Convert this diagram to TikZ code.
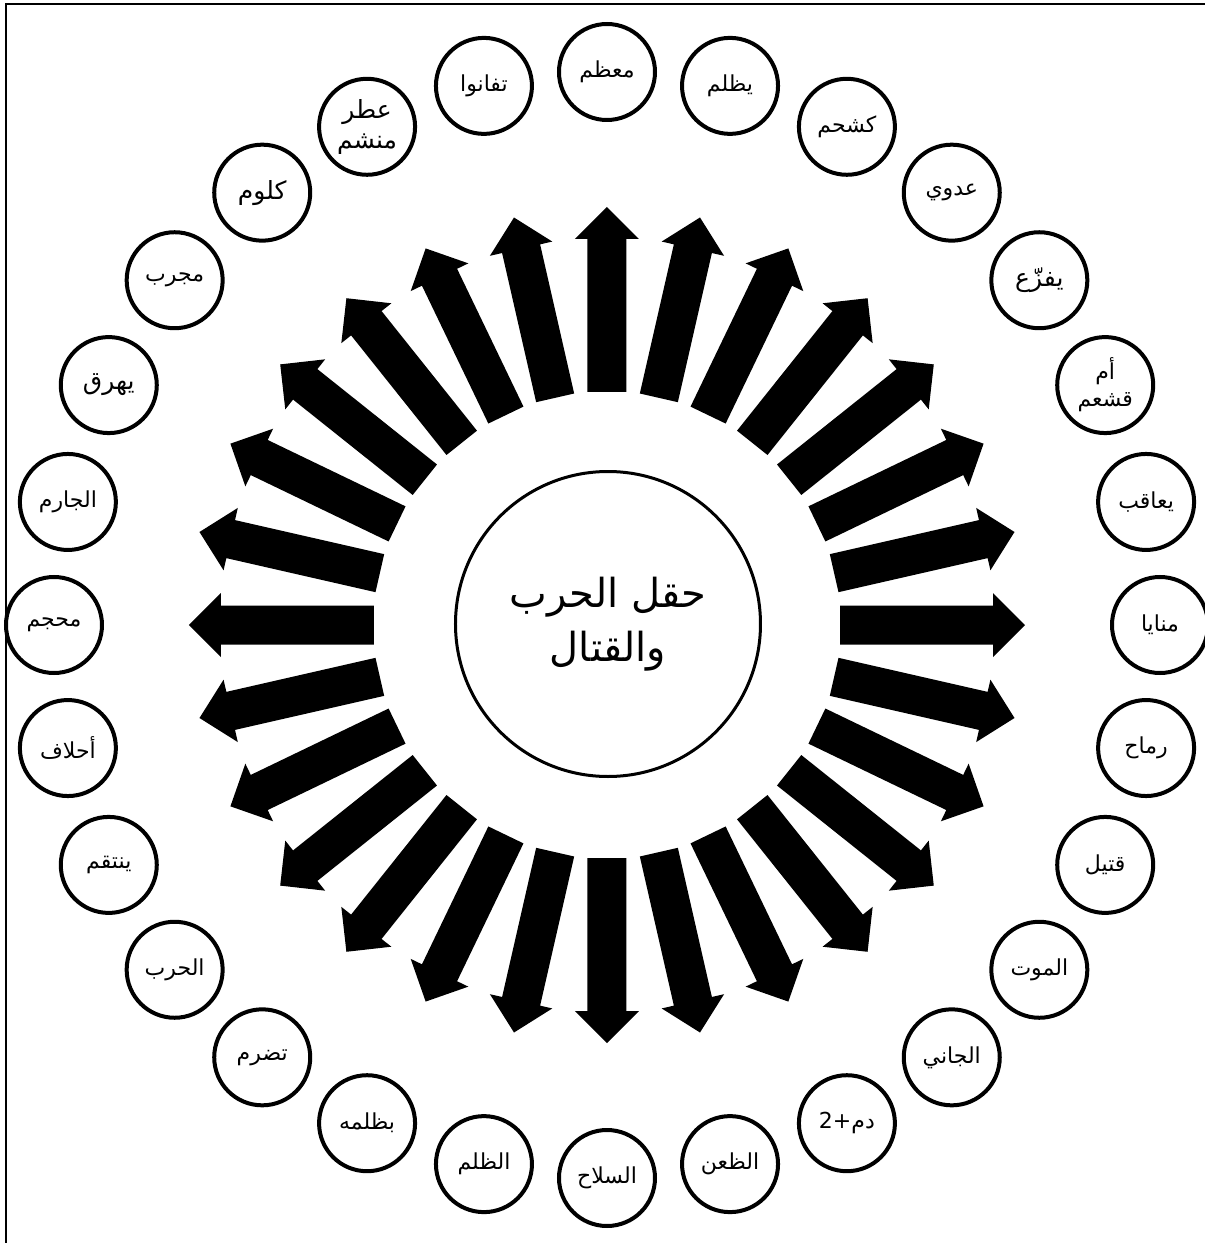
\documentclass[tikz,border=0pt]{standalone}
\usepackage{fontspec}
\newfontfamily\arabicfont[Script=Arabic]{DejaVu Sans}
\TeXXeTstate=1
\begin{document}
\begin{tikzpicture}[x=1pt,y=1pt,
  word/.style={circle,draw,line width=4pt,minimum size=96pt,inner sep=0pt,
    font=\arabicfont\fontsize{22}{27}\selectfont,align=center},
  bigword/.style={word,font=\arabicfont\fontsize{25}{30}\selectfont},
  hub/.style={circle,draw,line width=3pt,minimum size=305pt,inner sep=0pt,
    font=\arabicfont\fontsize{40}{54}\selectfont,align=center},
  spoke/.style={fill=black}]
\useasboundingbox (-607,-618) rectangle (598,625);
\draw[line width=2pt] (-601,-618) -- (-601,621) -- (598,621);
\node[hub] (c) at (1,1) {\beginR حقل الحرب\endR\\\beginR والقتال\endR};
\foreach \k in {0,...,27}{
  \fill[spoke,rotate=90-\k*360/28] (233,-19.5) -- (386,-19.5) -- (386,-32) -- (418,0) -- (386,32) -- (386,19.5) -- (233,19.5) -- cycle;
}
\node[word]    (n0)  at ({90-0*360/28}:553)  {\beginR معظم\endR};
\node[word]    (n1)  at ({90-1*360/28}:553)  {\beginR يظلم\endR};
\node[word]    (n2)  at ({90-2*360/28}:553)  {\beginR كشحم\endR};
\node[word]    (n3)  at ({90-3*360/28}:553)  {\beginR عدوي\endR};
\node[bigword] (n4)  at ({90-4*360/28}:553)  {\beginR يفزّع\endR};
\node[word]    (n5)  at ({90-5*360/28}:553)  {\beginR أم\endR\\\beginR قشعم\endR};
\node[word]    (n6)  at ({90-6*360/28}:553)  {\beginR يعاقب\endR};
\node[word]    (n7)  at ({90-7*360/28}:553)  {\beginR منايا\endR};
\node[word]    (n8)  at ({90-8*360/28}:553)  {\beginR رماح\endR};
\node[word]    (n9)  at ({90-9*360/28}:553)  {\beginR قتيل\endR};
\node[word]    (n10) at ({90-10*360/28}:553) {\beginR الموت\endR};
\node[word]    (n11) at ({90-11*360/28}:553) {\beginR الجاني\endR};
\node[word]    (n12) at ({90-12*360/28}:553) {\hbox{2}\hbox{+}\hbox{دم}};
\node[word]    (n13) at ({90-13*360/28}:553) {\beginR الظعن\endR};
\node[word]    (n14) at ({90-14*360/28}:553) {\beginR السلاح\endR};
\node[word]    (n15) at ({90-15*360/28}:553) {\beginR الظلم\endR};
\node[word]    (n16) at ({90-16*360/28}:553) {\beginR بظلمه\endR};
\node[word]    (n17) at ({90-17*360/28}:553) {\beginR تضرم\endR};
\node[word]    (n18) at ({90-18*360/28}:553) {\beginR الحرب\endR};
\node[word]    (n19) at ({90-19*360/28}:553) {\beginR ينتقم\endR};
\node[word]    (n20) at ({90-20*360/28}:553) {\beginR أحلاف\endR};
\node[word]    (n21) at ({90-21*360/28}:553) {\beginR محجم\endR};
\node[word]    (n22) at ({90-22*360/28}:553) {\beginR الجارم\endR};
\node[bigword] (n23) at ({90-23*360/28}:553) {\beginR يهرق\endR};
\node[word]    (n24) at ({90-24*360/28}:553) {\beginR مجرب\endR};
\node[bigword] (n25) at ({90-25*360/28}:553) {\beginR كلوم\endR};
\node[bigword] (n26) at ({90-26*360/28}:553) {\beginR عطر\endR\\\beginR منشم\endR};
\node[word]    (n27) at ({90-27*360/28}:553) {\beginR تفانوا\endR};
\end{tikzpicture}
\end{document}
